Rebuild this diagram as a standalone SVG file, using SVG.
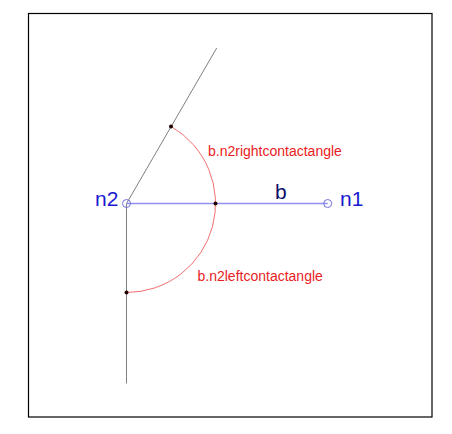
<svg xmlns="http://www.w3.org/2000/svg" width="452" height="434" viewBox="0 0 452 434">
<style>
.ray{stroke:#808080;stroke-width:1;fill:none}
.bar{stroke:#9090f0;stroke-width:1.5;fill:none}
.arc{stroke:#f07070;stroke-width:1;fill:none}
.node{stroke:#7070e0;stroke-width:1;fill:none}
.dot{fill:#200000}
.nl{font-family:"Liberation Sans",Arial,sans-serif;font-size:21px;fill:#1a1ad0}
.bl{font-family:"Liberation Sans",Arial,sans-serif;font-size:21px;fill:#10106a}
.al{font-family:"Liberation Sans",Arial,sans-serif;font-size:14px;fill:#e81c24}
</style>
<rect x="0" y="0" width="452" height="434" fill="#fff"/>
<rect x="28.5" y="13.5" width="403.5" height="403.5" fill="none" stroke="#000" stroke-width="1.2"/>
<g id="connectors">
<line class="ray" x1="126.5" y1="203.5" x2="216.7" y2="48"/>
<line class="ray" x1="126.5" y1="203.5" x2="126.5" y2="383.5"/>
<line class="bar" x1="126.5" y1="203.5" x2="327.7" y2="203.5"/>
<path class="arc" d="M171 126.4 A89 89 0 0 1 126.5 292.5"/>
<text class="bl" x="275" y="198.5">b</text>
<text class="al" x="208" y="156">b.n2rightcontactangle</text>
<text class="al" x="197.5" y="281">b.n2leftcontactangle</text>
</g>
<g id="dots">
<circle class="dot" cx="171" cy="126.4" r="2"/>
<circle class="dot" cx="215.5" cy="203.5" r="2"/>
<circle class="dot" cx="126.5" cy="292.5" r="2"/>
</g>
<g id="n2">
<circle class="node" cx="126.5" cy="203.5" r="4"/>
<text class="nl" x="95" y="206">n2</text>
</g>
<g id="n1">
<circle class="node" cx="327.7" cy="203.5" r="4"/>
<text class="nl" x="340" y="206">n1</text>
</g>
</svg>
